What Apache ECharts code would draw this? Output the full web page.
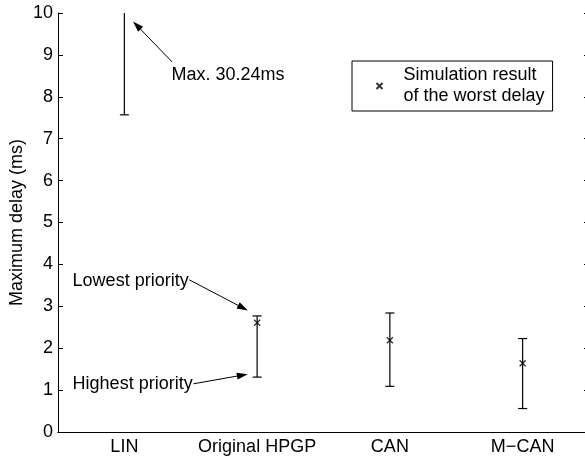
<!DOCTYPE html>
<html>
<head>
<meta charset="utf-8">
<script src="https://cdn.jsdelivr.net/npm/echarts@6/dist/echarts.min.js"></script>
<style>
  html, body { margin: 0; padding: 0; background: #fff; }
  #chart { width: 585px; height: 457px; }
</style>
</head>
<body>
<div id="chart"></div>
<script>
// data (ms)
const categories = ['LIN', 'Original HPGP', 'CAN', 'M\u2212CAN']
const lowerDelay = [7.57, 1.31, 1.09, 0.56]
const upperDelay = [30.24, 2.77, 2.84, 2.23]
const worstDelay = [null, 2.61, 2.19, 1.64]
const yTicks = [0, 1, 2, 3, 4, 5, 6, 7, 8, 9, 10]

const FONT = 'Liberation Sans, Arial, sans-serif'

// annotations: x is category index offset, y is data value
const notes = [
  { text: 'Max. 30.24ms', at: [0.355, 8.52], tail: [0.36, 8.83], head: [0.065, 9.8] },
  { text: 'Lowest priority', at: [-0.39, 3.6], tail: [0.49, 3.63], head: [0.93, 2.9] },
  { text: 'Highest priority', at: [-0.39, 1.15], tail: [0.52, 1.15], head: [0.93, 1.38] }
]

const chart = echarts.init(document.getElementById('chart'))

function toPx (api, p) {
  const c = api.coord([0, p[1]])
  const band = api.size([1, 0])[0]
  return [c[0] + p[0] * band, c[1]]
}

function arrow (a, b) {
  const dx = b[0] - a[0]
  const dy = b[1] - a[1]
  const len = Math.sqrt(dx * dx + dy * dy)
  const ux = dx / len
  const uy = dy / len
  const L = 11
  const W = 3.5
  const bx = b[0] - ux * L
  const by = b[1] - uy * L
  return [
    {
      type: 'line',
      shape: { x1: a[0], y1: a[1], x2: bx + ux * 3, y2: by + uy * 3 },
      style: { stroke: '#000', lineWidth: 1 }
    },
    {
      type: 'polygon',
      shape: { points: [[b[0], b[1]], [bx - uy * W, by + ux * W], [bx + uy * W, by - ux * W]] },
      style: { fill: '#000' }
    }
  ]
}

const yMax = 10

chart.setOption({
  animation: false,
  textStyle: { fontFamily: FONT },
  // plot box runs a few px past the right edge of the picture
  grid: { left: 58, width: 531, top: 13, bottom: 25, containLabel: false, outerBoundsMode: 'none' },
  legend: {
    left: 352,
    top: 61,
    orient: 'vertical',
    padding: [4, 8, 4, 22],
    itemWidth: 38,
    itemHeight: 6,
    borderColor: '#000',
    borderWidth: 1,
    borderRadius: 0,
    textStyle: { fontSize: 18, lineHeight: 21, color: '#000', fontFamily: FONT },
    data: ['Simulation result\nof the worst delay']
  },
  xAxis: [
    {
      type: 'category',
      data: categories,
      boundaryGap: true,
      axisLine: { lineStyle: { color: '#000', width: 1 } },
      axisTick: { alignWithLabel: true, inside: true, length: 5, lineStyle: { color: '#000' } },
      axisLabel: { color: '#000', fontSize: 18, margin: 6, interval: 0, fontFamily: FONT },
      splitLine: { show: false }
    },
    {
      type: 'category',
      data: categories,
      position: 'top',
      boundaryGap: true,
      axisLine: { show: true, lineStyle: { color: '#000', width: 1 } },
      axisTick: { alignWithLabel: true, inside: true, length: 5, interval: 0, lineStyle: { color: '#000' } },
      axisLabel: { show: false }
    }
  ],
  yAxis: [
    {
      type: 'value',
      min: yTicks[0],
      max: yTicks[yTicks.length - 1],
      interval: 1,
      name: 'Maximum delay (ms)',
      nameLocation: 'middle',
      nameGap: 32,
      nameMoveOverlap: false,
      nameTextStyle: { color: '#000', fontSize: 18, fontFamily: FONT },
      axisLine: { show: true, lineStyle: { color: '#000', width: 1 } },
      axisTick: { show: true, inside: true, length: 5, lineStyle: { color: '#000' } },
      axisLabel: { color: '#000', fontSize: 18, margin: 5, fontFamily: FONT },
      splitLine: { show: false }
    },
    {
      type: 'value',
      position: 'right',
      min: yTicks[0],
      max: yTicks[yTicks.length - 1],
      interval: 1,
      axisLine: { show: true, lineStyle: { color: '#000', width: 1 } },
      axisTick: { show: true, inside: true, length: 5, lineStyle: { color: '#000' } },
      axisLabel: { show: false },
      splitLine: { show: false }
    }
  ],
  series: [
    {
      type: 'custom',
      name: 'range',
      clip: true,
      data: categories.map((c, i) => [i, lowerDelay[i], upperDelay[i]]),
      encode: { x: 0, y: [1, 2] },
      renderItem: function (params, api) {
        const i = api.value(0)
        const hiVal = api.value(2)
        const lo = api.coord([i, api.value(1)])
        const hi = api.coord([i, Math.min(hiVal, yMax)])
        const cap = 4.5
        const style = { stroke: '#000', lineWidth: 1.2 }
        const children = [
          { type: 'line', shape: { x1: lo[0], y1: lo[1], x2: hi[0], y2: hi[1] }, style: style },
          { type: 'line', shape: { x1: lo[0] - cap, y1: lo[1], x2: lo[0] + cap, y2: lo[1] }, style: style }
        ]
        if (hiVal <= yMax) {
          children.push({ type: 'line', shape: { x1: hi[0] - cap, y1: hi[1], x2: hi[0] + cap, y2: hi[1] }, style: style })
        }
        return { type: 'group', children: children }
      }
    },
    {
      type: 'scatter',
      name: 'Simulation result\nof the worst delay',
      data: worstDelay.map((v, i) => [i, v]),
      symbol: 'path://M0,0L10,10M10,0L0,10',
      symbolSize: 6,
      itemStyle: { color: 'none', borderColor: '#000', borderWidth: 1.4 },
      emphasis: { disabled: true }
    },
    {
      type: 'custom',
      name: 'notes',
      clip: false,
      silent: true,
      data: [[0, 0]],
      renderItem: function (params, api) {
        let children = []
        notes.forEach(n => {
          const t = toPx(api, n.at)
          children.push({
            type: 'text',
            x: t[0],
            y: t[1],
            style: { text: n.text, fill: '#000', fontSize: 18, fontFamily: FONT, align: 'left', verticalAlign: 'middle' }
          })
          children = children.concat(arrow(toPx(api, n.tail), toPx(api, n.head)))
        })
        return { type: 'group', children: children }
      }
    }
  ]
})
</script>
</body>
</html>
